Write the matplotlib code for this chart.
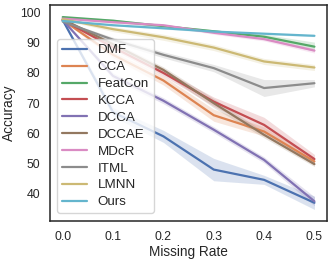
import numpy as np
import matplotlib
matplotlib.use("Agg")
import matplotlib.pyplot as plt
import seaborn as sns

sns.set_style("white")
plt.rcParams['font.family'] = ['Liberation Sans', 'DejaVu Sans']

missing_rate = [0.0, 0.1, 0.2, 0.3, 0.4, 0.5]
methods = ["DMF", "CCA", "FeatCon", "KCCA", "DCCA", "DCCAE", "MDcR", "ITML", "LMNN", "Ours"]

# mean accuracy per missing rate
dmf = [97.5, 67.0, 59.0, 48.0, 44.6, 37.0]
cca = [97.5, 86.0, 77.5, 66.0, 60.6, 50.7]
featcon = [98.5, 97.3, 95.5, 93.8, 92.0, 88.7]
kcca = [97.5, 88.5, 80.0, 70.5, 62.8, 51.5]
dcca = [97.5, 79.0, 70.8, 61.2, 51.2, 37.5]
dccae = [97.8, 89.5, 81.0, 70.0, 59.5, 49.8]
mdcr = [98.0, 96.8, 95.8, 93.3, 91.2, 87.4]
itml = [97.0, 91.0, 86.0, 81.6, 75.0, 76.6]
lmnn = [97.8, 94.5, 91.8, 88.4, 83.8, 81.8]
ours = [97.2, 95.8, 94.8, 93.7, 93.0, 92.3]

# confidence band half-widths
dmf_err = [0.5, 1.5, 2.0, 3.7, 1.5, 2.2]
cca_err = [0.3, 1.0, 1.5, 2.0, 1.5, 1.0]
featcon_err = [0.3, 0.5, 0.5, 0.5, 0.8, 1.5]
kcca_err = [0.3, 0.8, 1.0, 1.5, 2.5, 1.5]
dcca_err = [0.3, 1.0, 1.0, 1.0, 1.0, 1.5]
dccae_err = [0.3, 0.8, 1.0, 1.5, 1.0, 0.8]
mdcr_err = [0.2, 0.3, 0.4, 0.5, 0.6, 0.8]
itml_err = [0.3, 0.8, 1.0, 1.2, 2.8, 1.2]
lmnn_err = [0.3, 0.8, 1.0, 1.0, 1.0, 1.0]
ours_err = [0.2, 0.2, 0.3, 0.3, 0.3, 0.3]

means = [dmf, cca, featcon, kcca, dcca, dccae, mdcr, itml, lmnn, ours]
errs = [dmf_err, cca_err, featcon_err, kcca_err, dcca_err, dccae_err,
        mdcr_err, itml_err, lmnn_err, ours_err]
colors = sns.color_palette("deep", 10)

fig = plt.figure(figsize=(3.32, 2.63), dpi=100)
ax = fig.add_axes([0.151, 0.160, 0.834, 0.821])

x = np.array(missing_rate)
for name, m, e, c in zip(methods, means, errs, colors):
    m = np.array(m)
    e = np.array(e)
    ax.fill_between(x, m - e, m + e, color=c, alpha=0.2, linewidth=0)
    ax.plot(x, m, color=c, lw=1.6, label=name)

ax.set_ylim(31, 102.5)
ax.set_xticks(missing_rate)
ax.set_yticks([40, 50, 60, 70, 80, 90, 100])
ax.tick_params(labelsize=8.8, colors="#262626")
ax.set_xlabel("Missing Rate", fontsize=9.8, labelpad=2)
ax.set_ylabel("Accuracy", fontsize=9.8, labelpad=3)
for s in ax.spines.values():
    s.set_color("#262626")
    s.set_linewidth(1.1)

ax.legend(loc="lower left", bbox_to_anchor=(0.025, 0.037), borderaxespad=0,
          fontsize=9.6, handlelength=1.9, labelspacing=0.34, borderpad=0.35)

fig.savefig("out.png", dpi=100)
